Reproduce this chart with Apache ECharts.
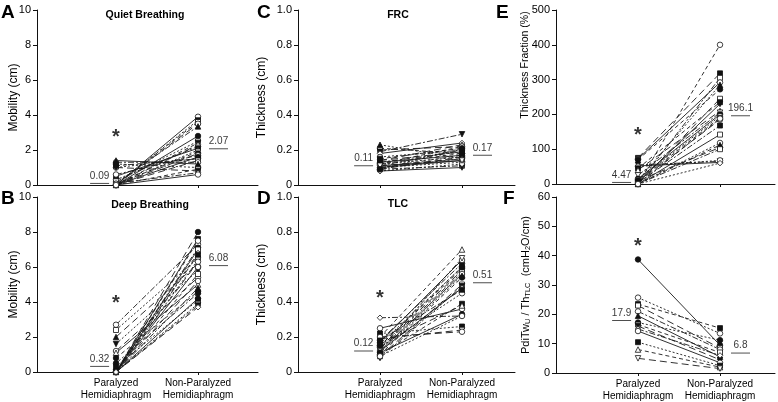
<!DOCTYPE html>
<html><head><meta charset="utf-8">
<script src="https://cdn.jsdelivr.net/npm/echarts@6/dist/echarts.min.js"></script>
<style>html,body{margin:0;padding:0;background:#fff}#c{width:778px;height:402px}</style>
</head><body><div id="c"></div>
<script>
// ---------- data ----------
const CATEGORIES = ['Paralyzed\nHemidiaphragm', 'Non-Paralyzed\nHemidiaphragm'];

// A: Quiet Breathing, mobility (cm)
const A_par = [0, 0, 0.05, 0, 0.1, 0, 0.2, 0, 0, 0.3, 0.5, 0, 0.05, 0, 0.6, 0, 1.0, 1.1, 0, 1.3, 1.4, 1.2, 0, 1.0, 0.1, 0];
const A_non = [3.9, 3.7, 3.6, 3.5, 3.35, 2.8, 2.5, 2.4, 2.3, 2.2, 2.1, 2.0, 1.9, 1.8, 1.7, 1.6, 1.5, 1.5, 1.4, 1.3, 1.2, 1.0, 0.9, 0.8, 0.7, 0.6];
// B: Deep Breathing, mobility (cm)
const B_par = [0, 2.7, 0, 2.4, 0, 2.0, 0, 0, 1.6, 0, 1.2, 0, 1.1, 0, 0.8, 0, 0.5, 0, 0.3, 0, 0, 0, 0, 0, 0, 0];
const B_non = [8.0, 7.3, 7.6, 6.5, 7.5, 6.2, 7.1, 7.0, 5.8, 6.8, 5.4, 6.7, 5.0, 6.4, 4.6, 6.3, 4.5, 6.0, 4.1, 5.6, 5.2, 4.8, 4.2, 3.9, 3.8, 3.7];
// C: FRC thickness (cm)
const C_par = [0.23, 0.21, 0.20, 0.19, 0.18, 0.16, 0.15, 0.14, 0.13, 0.13, 0.12, 0.12, 0.11, 0.11, 0.10, 0.10, 0.10, 0.09, 0.09, 0.08, 0.08, 0.12, 0.14, 0.10, 0.11, 0.09];
const C_non = [0.15, 0.18, 0.22, 0.29, 0.24, 0.20, 0.21, 0.23, 0.19, 0.17, 0.16, 0.18, 0.15, 0.20, 0.14, 0.13, 0.17, 0.16, 0.11, 0.10, 0.12, 0.22, 0.19, 0.15, 0.14, 0.21];
// D: TLC thickness (cm)
const D_par = [0.31, 0.25, 0.22, 0.20, 0.19, 0.18, 0.17, 0.16, 0.15, 0.14, 0.13, 0.12, 0.11, 0.10, 0.09, 0.08, 0.12, 0.14, 0.10, 0.16, 0.13, 0.11, 0.09, 0.15, 0.20, 0.18];
const D_non = [0.32, 0.36, 0.26, 0.70, 0.24, 0.62, 0.64, 0.60, 0.59, 0.58, 0.57, 0.56, 0.55, 0.54, 0.50, 0.49, 0.48, 0.45, 0.39, 0.38, 0.65, 0.33, 0.32, 0.60, 0.23, 0.47];
// E: thickness fraction (%)
const E_par = [0, 75, 0, 72, 10, 70, 0, 55, 52, 50, 45, 40, 25, 15, 12, 8, 5, 3, 0, 0, 0, 10, 0, 5, 0, 0];
const E_non = [400, 318, 305, 292, 285, 272, 245, 65, 62, 68, 235, 210, 205, 200, 195, 190, 185, 168, 142, 118, 112, 105, 100, 230, 60, 188];
// F: PdiTw / Th_TLC (cmH2O/cm)
const F_par = [38.7, 25.7, 23.5, 23.0, 21.0, 19.5, 17.2, 16.5, 16.0, 15.0, 14.3, 10.5, 8.0, 5.0];
const F_non = [9.5, 13.5, 15.3, 8.5, 8.0, 5.5, 11.2, 7.0, 4.5, 6.0, 3.5, 2.5, 2.0, 1.5];

// group means shown with short bars [paralyzed, non-paralyzed]
const MEAN_A = [0.09, 2.07];
const MEAN_B = [0.32, 6.08];
const MEAN_C = [0.11, 0.17];
const MEAN_D = [0.12, 0.51];
const MEAN_E = [4.47, 196.1];
const MEAN_F = [17.9, 6.8];

// significance asterisk height (null = none)
const STAR = [2.7, 3.9, null, 0.42, 140, 43];

const Y_MAX = [10, 10, 1.0, 1.0, 500, 60];
const Y_INTERVAL = [2, 2, 0.2, 0.2, 100, 10];

// ---------- layout / styles ----------
const PANELS = [
  {letter:'A', title:'Quiet Breathing', yName:'Mobility (cm)', par:A_par, non:A_non, mean:MEAN_A},
  {letter:'B', title:'Deep Breathing',  yName:'Mobility (cm)', par:B_par, non:B_non, mean:MEAN_B},
  {letter:'C', title:'FRC', yName:'Thickness (cm)', par:C_par, non:C_non, mean:MEAN_C},
  {letter:'D', title:'TLC', yName:'Thickness (cm)', par:D_par, non:D_non, mean:MEAN_D},
  {letter:'E', title:'', yName:'Thickness Fraction (%)', par:E_par, non:E_non, mean:MEAN_E},
  {letter:'F', title:'', yName:'{n|PdiTw}{s|U}{n| / Th}{s|TLC}{n|  (cmH}{s|2}{n|O/cm)}', par:F_par, non:F_non, mean:MEAN_F}
];
const GRIDS = [
  {left:37, top:10, width:221, height:175},
  {left:37, top:197, width:221, height:175},
  {left:298, top:10, width:217, height:175},
  {left:298, top:197, width:217, height:175},
  {left:556, top:10, width:219, height:174},
  {left:556, top:197, width:219, height:176}
];
const CAT_OFFSET = [79, 79, 82, 82, 82, 82];
const UNIT = 82;
const LETTER_POS = [[1,3],[1,189],[257,3],[257,189],[496,3],[503,189]];
const TITLE_POS = [[145,15],[150,205],[398,15],[398,204]];
const NAME_GAP = [17, 17, 30, 30, 25, 24];
const NAME_SIZE = [12, 12, 12, 12, 10.5, 11];
const MARK_OFFSET = [1, 0, 5, 9, 1, 0];

const MARKS = [
  ['circle',true],['circle',false],['rect',true],['rect',false],['circle',false],['triangle',true],
  ['circle',true],['rect',false],['dtri',true],['diamond',false],['circle',false],['rect',true],
  ['triangle',false],['dtri',false],['circle',true],['circle',false]
];
const DASHES = ['solid',[7,4],[2,2],[6,2,2,2],[4,3]];
const INK = '#111';

const grid = [], xAxis = [], yAxis = [], series = [], graphic = [];

PANELS.forEach((P, k) => {
  const g = GRIDS[k];
  grid.push(Object.assign({containLabel:false}, g));
  const xMin = 1 - CAT_OFFSET[k] / UNIT;
  const bottom = (k % 2) === 1;
  xAxis.push({
    gridIndex:k, type:'value', min:xMin, max:xMin + g.width / UNIT,
    axisLine:{show:true, onZero:false, lineStyle:{color:INK, width:1}},
    axisTick:{show:true, length:3, customValues:[1,2], lineStyle:{color:INK}},
    axisLabel:{show:bottom, customValues:[1,2], fontSize:10, lineHeight:12, color:'#000', margin:5,
      formatter: v => v === 1 ? CATEGORIES[0] : (v === 2 ? CATEGORIES[1] : '')},
    splitLine:{show:false}
  });
  const yAx = {
    gridIndex:k, type:'value', min:0, max:Y_MAX[k], interval:Y_INTERVAL[k],
    axisLine:{show:true, lineStyle:{color:INK, width:1}},
    axisTick:{show:true, length:4, lineStyle:{color:INK}},
    axisLabel:{fontSize:11, color:'#000', margin:6,
      formatter: v => (k === 2 || k === 3) ? (v === 0 ? '0' : v.toFixed(1)) : String(v)},
    splitLine:{show:false},
    name:P.yName, nameLocation:'middle', nameGap:NAME_GAP[k], nameMoveOverlap:false,
    nameTextStyle:{fontSize:NAME_SIZE[k], color:'#000'}
  };
  if (k === 4) yAx.nameTextStyle.padding = [0, 0, 0, 64];
  if (k === 5) yAx.nameTextStyle.rich = {
    n:{fontSize:11, color:'#000'},
    s:{fontSize:7.5, color:'#000', verticalAlign:'bottom', padding:[5,0,0,0]}
  };
  yAxis.push(yAx);

  // subjects
  P.par.forEach((pv, i) => {
    const m = MARKS[(i + MARK_OFFSET[k]) % MARKS.length];
    const dash = DASHES[(i * 2 + k) % DASHES.length];
    const sym = m[0] === 'dtri' ? 'triangle' : m[0];
    series.push({
      type:'line', xAxisIndex:k, yAxisIndex:k, animation:false, silent:true,
      data:[[1, pv], [2, P.non[i]]],
      symbol:sym, symbolSize: sym === 'rect' ? 5 : 5.5, symbolRotate: m[0] === 'dtri' ? 180 : 0,
      showSymbol:true,
      itemStyle:{color: m[1] ? INK : '#fff', borderColor:INK, borderWidth:0.8},
      lineStyle:{color:'#1a1a1a', width:0.9, type:dash}
    });
  });

  // mean bars with values
  series.push({
    type:'scatter', xAxisIndex:k, yAxisIndex:k, animation:false, silent:true, z:5,
    data:[[0.8, P.mean[0]], [2.25, P.mean[1]]],
    symbol:'rect', symbolSize:[19, 1], itemStyle:{color:'#222'},
    label:{show:true, position:'top', distance:2, fontSize:10, color:'#000',
      formatter: p => String(P.mean[p.dataIndex])}
  });

  // asterisk
  if (STAR[k] !== null) {
    series.push({
      type:'scatter', xAxisIndex:k, yAxisIndex:k, animation:false, silent:true, z:6,
      data:[[1, STAR[k]]], symbolSize:8, itemStyle:{color:'rgba(0,0,0,0)'},
      label:{show:true, position:'inside', formatter:'*', fontSize:20, fontWeight:'bold', color:'#000'}
    });
  }

  graphic.push({type:'text', left:LETTER_POS[k][0], top:LETTER_POS[k][1],
    style:{text:P.letter, fontSize:19, fontWeight:'bold', fill:'#000', fontFamily:'Liberation Sans, Arial, sans-serif'}});
  if (P.title) {
    graphic.push({type:'text', x:TITLE_POS[k][0], y:TITLE_POS[k][1],
      style:{text:P.title, fontSize:10.5, fontWeight:'bold', fill:'#000', align:'center', verticalAlign:'middle',
        fontFamily:'Liberation Sans, Arial, sans-serif'}});
  }
});

const chart = echarts.init(document.getElementById('c'), null, {renderer:'canvas'});
chart.setOption({
  backgroundColor:'#fff',
  animation:false,
  textStyle:{fontFamily:'Liberation Sans, Arial, sans-serif'},
  grid, xAxis, yAxis, series, graphic
});
</script>
</body></html>
